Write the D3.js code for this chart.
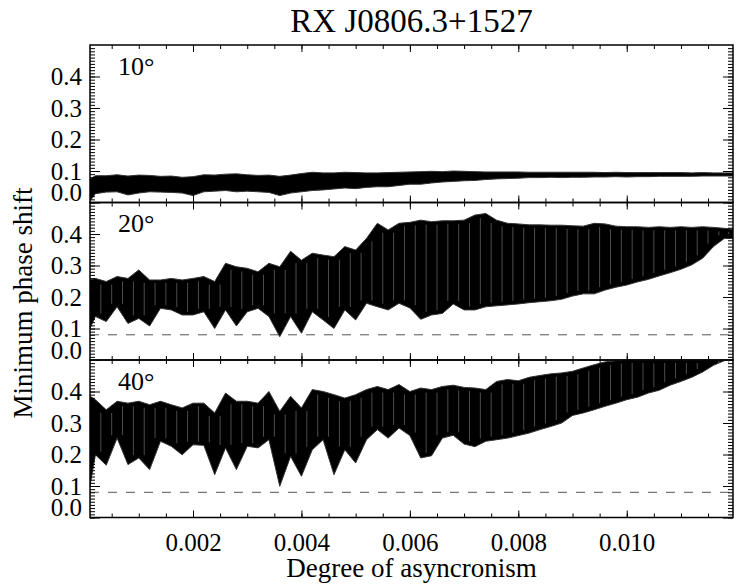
<!DOCTYPE html>
<html>
<head>
<meta charset="utf-8">
<script src="https://cdn.jsdelivr.net/npm/d3@7"></script>
<style>
  body { margin: 0; background: #fff; }
</style>
</head>
<body>
<div id="chart"></div>
<script>
// degree of asyncronism (x), one sample every 0.0002 plus the two ends
const asyncronism = [
  0.0001, 0.0002, 0.0004, 0.0006, 0.0008, 0.0010, 0.0012, 0.0014, 0.0016, 0.0018,
  0.0020, 0.0022, 0.0024, 0.0026, 0.0028, 0.0030, 0.0032, 0.0034, 0.0036, 0.0038,
  0.0040, 0.0042, 0.0044, 0.0046, 0.0048, 0.0050, 0.0052, 0.0054, 0.0056, 0.0058,
  0.0060, 0.0062, 0.0064, 0.0066, 0.0068, 0.0070, 0.0072, 0.0074, 0.0076, 0.0078,
  0.0080, 0.0082, 0.0084, 0.0086, 0.0088, 0.0090, 0.0092, 0.0094, 0.0096, 0.0098,
  0.0100, 0.0102, 0.0104, 0.0106, 0.0108, 0.0110, 0.0112, 0.0114, 0.0116, 0.0118,
  0.01196
]

// envelope of the minimum phase shift, 10 degrees
const upper10 = [
  0.075, 0.085, 0.085, 0.088, 0.084, 0.087, 0.086, 0.083, 0.084, 0.080,
  0.082, 0.088, 0.087, 0.090, 0.091, 0.088, 0.086, 0.087, 0.083, 0.087,
  0.092, 0.096, 0.094, 0.094, 0.096, 0.095, 0.094, 0.094, 0.095, 0.096,
  0.097, 0.098, 0.099, 0.098, 0.100, 0.099, 0.098, 0.097, 0.097, 0.097,
  0.097, 0.096, 0.096, 0.096, 0.096, 0.096, 0.096, 0.096, 0.095, 0.096,
  0.095, 0.095, 0.095, 0.095, 0.095, 0.095, 0.094, 0.095, 0.094, 0.094,
  0.094
]
const lower10 = [
  0.005, 0.028, 0.033, 0.034, 0.024, 0.030, 0.034, 0.033, 0.032, 0.030,
  0.022, 0.034, 0.036, 0.038, 0.034, 0.036, 0.034, 0.032, 0.022, 0.030,
  0.034, 0.038, 0.040, 0.043, 0.046, 0.044, 0.048, 0.050, 0.050, 0.054,
  0.058, 0.058, 0.062, 0.065, 0.067, 0.069, 0.070, 0.073, 0.075, 0.076,
  0.077, 0.079, 0.079, 0.080, 0.079, 0.080, 0.080, 0.081, 0.081, 0.082,
  0.081, 0.082, 0.082, 0.083, 0.083, 0.083, 0.083, 0.084, 0.084, 0.084,
  0.084
]

// 20 degrees
const upper20 = [
  0.254, 0.259, 0.249, 0.265, 0.259, 0.286, 0.254, 0.254, 0.259, 0.254,
  0.259, 0.265, 0.249, 0.307, 0.296, 0.291, 0.280, 0.307, 0.296, 0.345,
  0.317, 0.339, 0.333, 0.328, 0.360, 0.349, 0.386, 0.434, 0.413, 0.434,
  0.437, 0.444, 0.439, 0.442, 0.442, 0.444, 0.460, 0.465, 0.444, 0.434,
  0.432, 0.429, 0.429, 0.428, 0.428, 0.426, 0.425, 0.434, 0.432, 0.425,
  0.423, 0.423, 0.421, 0.423, 0.421, 0.423, 0.421, 0.423, 0.421, 0.418,
  0.415
]
const lower20 = [
  0.100, 0.138, 0.122, 0.169, 0.116, 0.132, 0.108, 0.164, 0.159, 0.143,
  0.143, 0.153, 0.100, 0.159, 0.108, 0.153, 0.164, 0.138, 0.074, 0.138,
  0.085, 0.153, 0.127, 0.100, 0.159, 0.127, 0.180, 0.169, 0.159, 0.180,
  0.165, 0.129, 0.143, 0.148, 0.178, 0.159, 0.159, 0.169, 0.172, 0.175,
  0.178, 0.182, 0.185, 0.188, 0.193, 0.203, 0.210, 0.210, 0.222, 0.231,
  0.238, 0.248, 0.256, 0.267, 0.277, 0.288, 0.302, 0.323, 0.360, 0.386,
  0.386
]

// 40 degrees
const upper40 = [
  0.385, 0.374, 0.342, 0.369, 0.363, 0.369, 0.358, 0.369, 0.358, 0.348,
  0.363, 0.363, 0.332, 0.395, 0.369, 0.369, 0.363, 0.400, 0.337, 0.385,
  0.348, 0.406, 0.400, 0.390, 0.379, 0.390, 0.406, 0.416, 0.406, 0.422,
  0.400, 0.411, 0.406, 0.416, 0.420, 0.413, 0.411, 0.406, 0.432, 0.438,
  0.434, 0.445, 0.451, 0.456, 0.459, 0.464, 0.475, 0.485, 0.494, 0.498,
  0.500, 0.500, 0.500, 0.500, 0.500, 0.500, 0.500, 0.500, 0.500, 0.500,
  0.500
]
const lower40 = [
  0.100, 0.199, 0.166, 0.252, 0.168, 0.189, 0.152, 0.242, 0.226, 0.199,
  0.231, 0.229, 0.136, 0.221, 0.152, 0.226, 0.221, 0.247, 0.099, 0.194,
  0.131, 0.215, 0.247, 0.136, 0.215, 0.173, 0.247, 0.279, 0.252, 0.284,
  0.260, 0.189, 0.196, 0.252, 0.261, 0.233, 0.225, 0.242, 0.247, 0.252,
  0.260, 0.268, 0.279, 0.289, 0.300, 0.324, 0.332, 0.342, 0.353, 0.363,
  0.374, 0.382, 0.395, 0.404, 0.420, 0.432, 0.445, 0.462, 0.483, 0.498,
  0.500
]

const panelLabels = ['10°', '20°', '40°']
const referenceShift = [null, 0.08, 0.08]
const yTicks = [0, 0.1, 0.2, 0.3, 0.4]
const xTicks = [0.002, 0.004, 0.006, 0.008, 0.010]

const width = 747
const height = 585
const plotLeft = 90
const plotRight = 733
const plotTop = 45
const panelHeight = 157.5
const serif = 'Liberation Serif'

const svg = d3
  .select('#chart')
  .append('svg')
  .attr('width', width)
  .attr('height', height)
  .attr('font-family', serif)

svg.append('rect').attr('width', width).attr('height', height).attr('fill', '#fff')

const x = d3.scaleLinear().domain([0.0001, 0.01196]).range([plotLeft, plotRight])

const minorX = d3.range(5, 120, 5).map(d => d / 10000)
const minorY = d3.range(0, 50).map(d => d / 100)

const series = [
  [upper10, lower10],
  [upper20, lower20],
  [upper40, lower40]
]

series.forEach(function(s, i) {
  const y0 = plotTop + i * panelHeight
  const y = d3.scaleLinear().domain([0, 0.5]).range([y0 + panelHeight, y0])
  const g = svg.append('g')

  const datapoints = asyncronism.map((a, j) => ({ a: a, hi: s[0][j], lo: s[1][j] }))

  g.append('clipPath')
    .attr('id', 'clip-' + i)
    .append('rect')
    .attr('x', plotLeft)
    .attr('y', y0)
    .attr('width', plotRight - plotLeft)
    .attr('height', panelHeight)

  const area = d3
    .area()
    .x(d => x(d.a))
    .y0(d => y(d.lo))
    .y1(d => y(d.hi))

  const band = g.append('g').attr('clip-path', `url(#clip-${i})`)

  band.append('path')
    .datum(datapoints)
    .attr('d', area)
    .attr('fill', '#000')
    .attr('stroke', '#333')
    .attr('stroke-width', 1)

  // faint streaks between neighbouring samples, like the dense curve
  if (i > 0) {
    const pairs = d3.pairs(datapoints).slice(1)
    band.selectAll('.streak')
      .data(pairs)
      .enter()
      .append('line')
      .attr('class', 'streak')
      .attr('x1', d => x((d[0].a + d[1].a) / 2))
      .attr('x2', d => x((d[0].a + d[1].a) / 2))
      .attr('y1', d => y(Math.max(d[0].lo, d[1].lo)) - 3)
      .attr('y2', d => y(Math.min(d[0].hi, d[1].hi)) + 3)
      .attr('stroke', '#6e6e6e')
      .attr('stroke-width', 0.7)
  }

  if (referenceShift[i] !== null) {
    g.append('line')
      .attr('x1', plotLeft)
      .attr('x2', plotRight)
      .attr('y1', y(referenceShift[i]))
      .attr('y2', y(referenceShift[i]))
      .attr('stroke', '#555')
      .attr('stroke-width', 1)
      .attr('stroke-dasharray', '9,9')
  }

  // x ticks, top and bottom, pointing inwards
  g.append('g')
    .attr('transform', `translate(0,${y0 + panelHeight})`)
    .call(d3.axisBottom(x).tickValues(minorX).tickSize(-4).tickFormat(''))
  g.append('g')
    .attr('transform', `translate(0,${y0})`)
    .call(d3.axisTop(x).tickValues(minorX).tickSize(-4).tickFormat(''))
  g.append('g')
    .attr('transform', `translate(0,${y0})`)
    .call(d3.axisTop(x).tickValues(xTicks).tickSize(-7).tickFormat(''))
  g.append('g')
    .attr('class', 'labelled')
    .attr('transform', `translate(0,${y0 + panelHeight})`)
    .call(
      d3.axisBottom(x)
        .tickValues(xTicks)
        .tickSize(-7)
        .tickPadding(16)
        .tickFormat(i === 2 ? d3.format('.3f') : '')
    )

  // y ticks, left and right
  g.append('g')
    .attr('transform', `translate(${plotLeft},0)`)
    .call(d3.axisLeft(y).tickValues(minorY).tickSize(-5).tickFormat(''))
  g.append('g')
    .attr('transform', `translate(${plotRight},0)`)
    .call(d3.axisRight(y).tickValues(minorY).tickSize(-5).tickFormat(''))
  g.append('g')
    .attr('transform', `translate(${plotRight},0)`)
    .call(d3.axisRight(y).tickValues(yTicks).tickSize(-10).tickFormat(''))
  const leftAxis = g.append('g')
    .attr('class', 'labelled')
    .attr('transform', `translate(${plotLeft},0)`)
    .call(d3.axisLeft(y).tickValues(yTicks).tickSize(-10).tickPadding(8).tickFormat(d3.format('.1f')))
  leftAxis.selectAll('.tick')
    .filter(d => d === 0)
    .select('text')
    .attr('y', -10)

  g.selectAll('.labelled').attr('font-family', serif).attr('font-size', 25)
  g.selectAll('.labelled text').attr('font-family', serif).attr('font-size', 25).attr('fill', '#000')
  g.selectAll('.domain').remove()
  g.selectAll('.tick line').attr('stroke', '#000')

  g.append('rect')
    .attr('x', plotLeft)
    .attr('y', y0)
    .attr('width', plotRight - plotLeft)
    .attr('height', panelHeight)
    .attr('fill', 'none')
    .attr('stroke', '#000')
    .attr('stroke-width', 1.5)

  g.append('text')
    .attr('x', 118)
    .attr('y', y0 + 29.5)
    .attr('font-family', serif)
    .attr('font-size', 26)
    .text(panelLabels[i])
})

svg.append('text')
  .attr('x', (plotLeft + plotRight) / 2)
  .attr('y', 32)
  .attr('text-anchor', 'middle')
  .attr('font-family', serif)
  .attr('font-size', 33)
  .text('RX J0806.3+1527')

svg.append('text')
  .attr('x', (plotLeft + plotRight) / 2)
  .attr('y', 577)
  .attr('text-anchor', 'middle')
  .attr('font-family', serif)
  .attr('font-size', 27)
  .text('Degree of asyncronism')

svg.append('text')
  .attr('transform', 'translate(32,303) rotate(-90)')
  .attr('text-anchor', 'middle')
  .attr('font-family', serif)
  .attr('font-size', 27)
  .text('Minimum phase shift')
</script>
</body>
</html>
